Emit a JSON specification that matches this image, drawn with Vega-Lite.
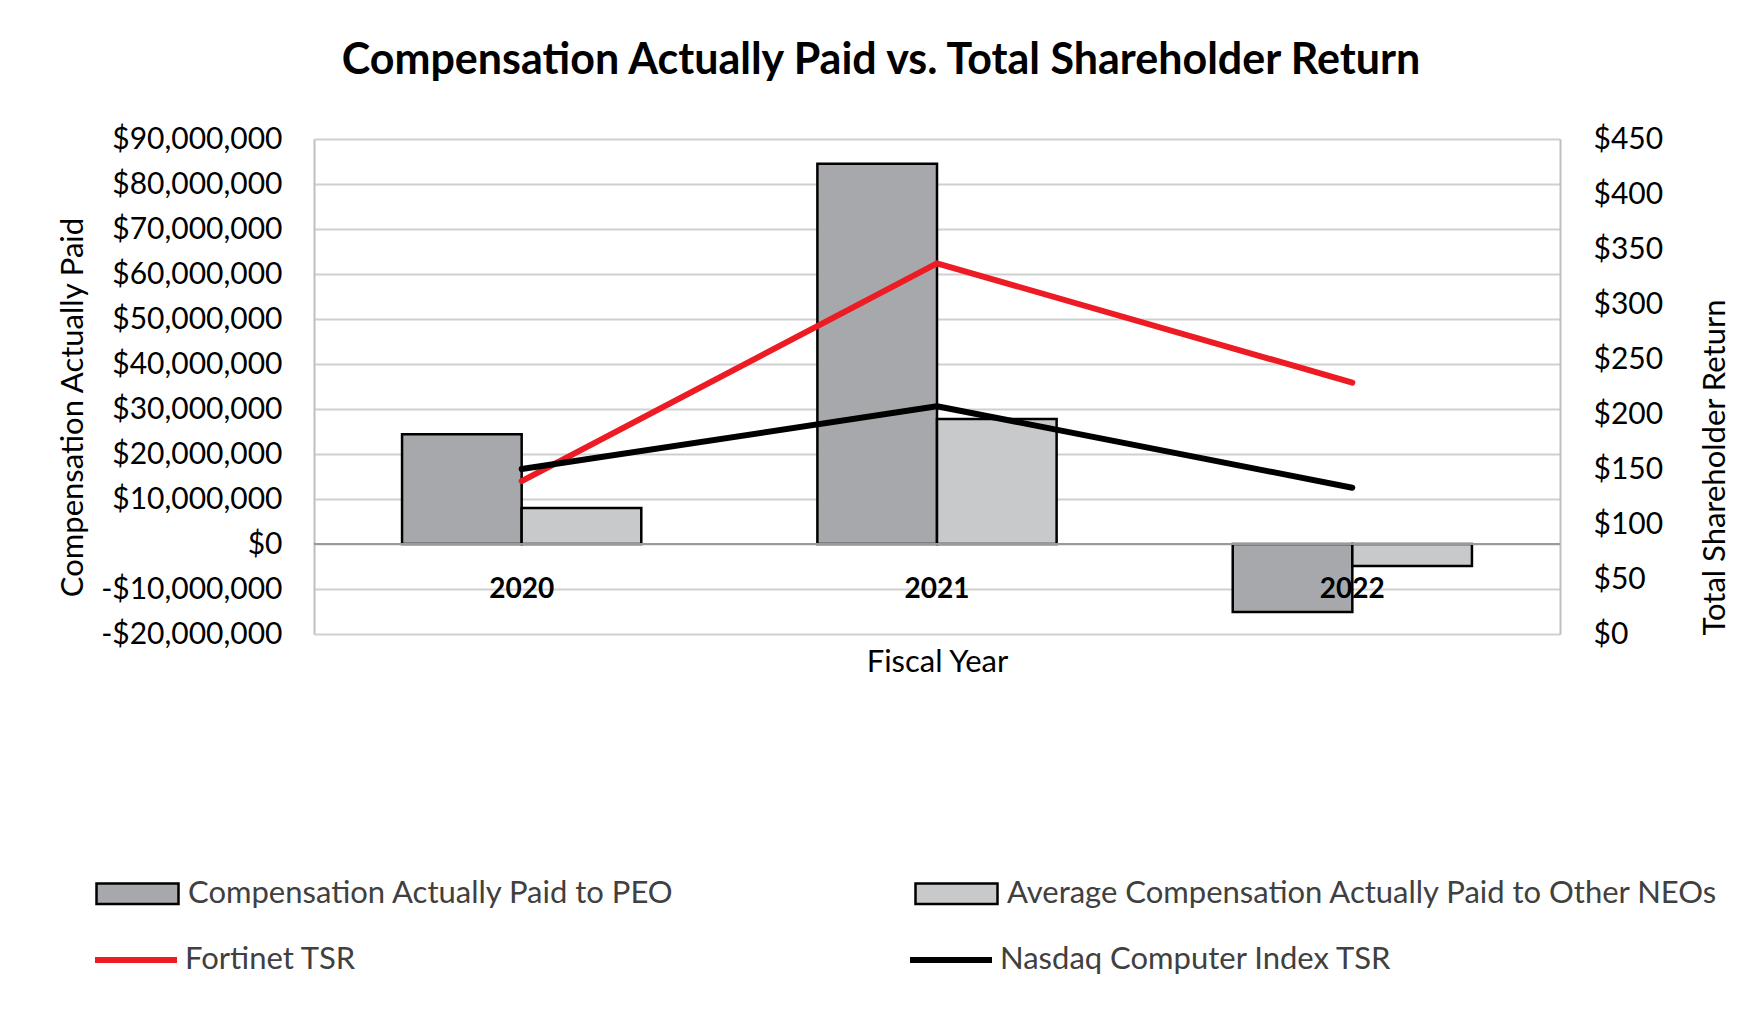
{
  "$schema": "https://vega.github.io/schema/vega-lite/v6.json",
  "width": 1246,
  "height": 495,
  "autosize": {"type": "none"},
  "padding": {"left": 314, "top": 139, "right": 202, "bottom": 380},
  "background": "white",
  "config": {"view": {"stroke": null}, "font": "Lato"},
  "title": {
    "text": "Compensation Actually Paid vs. Total Shareholder Return",
    "font": "Lato",
    "fontSize": 43,
    "fontWeight": "bold",
    "color": "#000000",
    "anchor": "middle",
    "frame": "group",
    "dx": -56,
    "baseline": "alphabetic",
    "offset": 7
  },
  "datasets": {
    "comp": [
      {"year": "2020", "series": "Compensation Actually Paid to PEO", "value": 24400000},
      {"year": "2020", "series": "Average Compensation Actually Paid to Other NEOs", "value": 8000000},
      {"year": "2021", "series": "Compensation Actually Paid to PEO", "value": 84500000},
      {"year": "2021", "series": "Average Compensation Actually Paid to Other NEOs", "value": 27800000},
      {"year": "2022", "series": "Compensation Actually Paid to PEO", "value": -15100000},
      {"year": "2022", "series": "Average Compensation Actually Paid to Other NEOs", "value": -4900000}
    ],
    "tsr": [
      {"year": "2020", "series": "Fortinet TSR", "value": 139},
      {"year": "2021", "series": "Fortinet TSR", "value": 337},
      {"year": "2022", "series": "Fortinet TSR", "value": 228.5},
      {"year": "2020", "series": "Nasdaq Computer Index TSR", "value": 150},
      {"year": "2021", "series": "Nasdaq Computer Index TSR", "value": 207},
      {"year": "2022", "series": "Nasdaq Computer Index TSR", "value": 133}
    ]
  },
  "layer": [
    {
      "layer": [
        {
          "data": {"name": "comp"},
          "mark": {"type": "bar", "stroke": "#000000", "strokeWidth": 2.5},
          "encoding": {
            "x": {
              "field": "year",
              "type": "nominal",
              "scale": {"paddingInner": 0.424, "paddingOuter": 0.212},
              "axis": {
                "title": "Fiscal Year",
                "labelAngle": 0,
                "labelFont": "Lato",
                "labelFontWeight": "bold",
                "labelFontSize": 28,
                "labelColor": "#000000",
                "labelPadding": -37,
                "labelBaseline": "alphabetic",
                "ticks": false,
                "tickSize": 0,
                "domain": false,
                "grid": false,
                "zindex": 1,
                "titleFont": "Lato",
                "titleFontSize": 31,
                "titleFontWeight": "normal",
                "titleColor": "#000000",
                "titleBaseline": "alphabetic",
                "titleY": 37
              }
            },
            "xOffset": {
              "field": "series",
              "type": "nominal",
              "scale": {
                "domain": ["Compensation Actually Paid to PEO", "Average Compensation Actually Paid to Other NEOs"],
                "paddingInner": 0,
                "paddingOuter": 0
              }
            },
            "y": {
              "field": "value",
              "type": "quantitative",
              "scale": {"domain": [-20000000, 90000000], "nice": false, "zero": false},
              "axis": {
                "orient": "left",
                "values": [-20000000, -10000000, 0, 10000000, 20000000, 30000000, 40000000, 50000000, 60000000, 70000000, 80000000, 90000000],
                "labelExpr": "datum.value < 0 ? '-$' + format(-datum.value, ',') : '$' + format(datum.value, ',')",
                "labelFont": "Lato",
                "labelFontSize": 30,
                "labelColor": "#000000",
                "labelPadding": 32,
                "labelLimit": 400,
                "ticks": false,
                "tickSize": 0,
                "domain": true,
                "domainColor": "#bfbfbf",
                "domainWidth": 2,
                "grid": true,
                "gridColor": "#d0d0d0",
                "gridWidth": 2,
                "title": "Compensation Actually Paid",
                "titleFont": "Lato",
                "titleFontSize": 31,
                "titleFontWeight": "normal",
                "titleColor": "#000000",
                "titleAngle": 270,
                "titleBaseline": "alphabetic",
                "titleAlign": "center",
                "titleX": -232,
                "titleY": 268
              }
            },
            "fill": {
              "field": "series",
              "type": "nominal",
              "scale": {
                "domain": ["Compensation Actually Paid to PEO", "Average Compensation Actually Paid to Other NEOs"],
                "range": ["#a7a8ab", "#c8c9cb"]
              },
              "legend": {
                "title": null,
                "orient": "none",
                "legendX": -219,
                "legendY": 712,
                "direction": "horizontal",
                "columns": 2,
                "padding": 0,
                "labelFont": "Lato",
                "labelFontSize": 31,
                "labelColor": "#404040",
                "labelOffset": 8,
                "labelLimit": 1000,
                "symbolType": "M-1,-0.25H1V0.25H-1Z",
                "symbolSize": 6724,
                "symbolStrokeColor": "#000000",
                "symbolStrokeWidth": 2.5,
                "symbolOpacity": 1,
                "columnPadding": 235
              }
            }
          }
        },
        {
          "data": {"values": [{}]},
          "mark": {"type": "rule", "color": "#9a9a9a", "strokeWidth": 2},
          "encoding": {"y": {"datum": 0, "type": "quantitative"}}
        }
      ]
    },
    {
      "data": {"name": "tsr"},
      "mark": {"type": "line", "strokeWidth": 6, "strokeCap": "round", "strokeJoin": "round"},
      "encoding": {
        "x": {"field": "year", "type": "nominal"},
        "y": {
          "field": "value",
          "type": "quantitative",
          "scale": {"domain": [0, 450], "nice": false, "zero": false},
          "axis": {
            "orient": "right",
            "values": [0, 50, 100, 150, 200, 250, 300, 350, 400, 450],
            "labelExpr": "'$' + datum.value",
            "labelFont": "Lato",
            "labelFontSize": 30,
            "labelColor": "#000000",
            "labelPadding": 33,
            "ticks": false,
            "tickSize": 0,
            "domain": true,
            "domainColor": "#bfbfbf",
            "domainWidth": 2,
            "grid": false,
            "title": "Total Shareholder Return",
            "titleFont": "Lato",
            "titleFontSize": 31,
            "titleFontWeight": "normal",
            "titleColor": "#000000",
            "titleAngle": 270,
            "titleBaseline": "alphabetic",
            "titleAlign": "center",
            "titleX": 164,
            "titleY": 328
          }
        },
        "stroke": {
          "field": "series",
          "type": "nominal",
          "scale": {
            "domain": ["Fortinet TSR", "Nasdaq Computer Index TSR"],
            "range": ["#ed1c24", "#000000"]
          },
          "legend": {
            "title": null,
            "orient": "none",
            "legendX": -222,
            "legendY": 777,
            "direction": "horizontal",
            "columns": 2,
            "padding": 0,
            "labelFont": "Lato",
            "labelFontSize": 31,
            "labelColor": "#404040",
            "labelOffset": 5,
            "labelLimit": 1000,
            "symbolType": "M-1,0H1",
            "symbolSize": 6724,
            "symbolStrokeWidth": 6,
            "symbolOpacity": 1,
            "columnPadding": 541
          }
        }
      }
    }
  ],
  "resolve": {"scale": {"y": "independent"}}
}
